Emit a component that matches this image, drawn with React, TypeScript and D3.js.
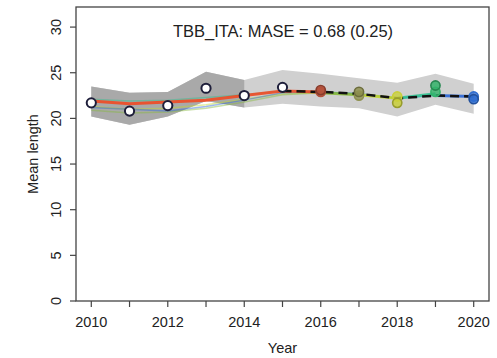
import React from "react";
import * as d3 from "d3";

// Observed mean length with uncertainty band
const years = [2010, 2011, 2012, 2013, 2014, 2015, 2016, 2017, 2018, 2019, 2020];
const observed = [21.7, 20.8, 21.4, 23.3, 22.5, 23.4, 23.1, 22.9, 21.7, 23.6, 22.1];
const bandUpper = [23.5, 22.8, 22.9, 25.1, 24.2, 25.3, 24.9, 24.4, 23.9, 24.9, 23.8];
const bandLower = [20.2, 19.3, 20.2, 21.9, 21.2, 21.6, 21.3, 21.1, 20.2, 21.5, 20.5];
const darkBandEnd = 2014;

// Reference run (dashed) over the hindcast window
const refYears = [2015, 2016, 2017, 2018, 2019, 2020];
const refValues = [23.0, 22.9, 22.7, 22.2, 22.5, 22.4];

// Retrospective peels: fitted values from 2010 up to their one-step-ahead year
const peelNames = ["2015", "2016", "2017", "2018", "2019"];
const peelColors = ["#ee4a24", "#86b83c", "#c2d62a", "#2fbf8f", "#2a66d6"];
const peelFits = [
  [21.9, 21.6, 21.8, 22.0, 22.5, 23.0, 22.9],
  [20.9, 20.6, 20.7, 21.1, 21.8, 22.6, 22.8, 22.6],
  [21.3, 21.0, 21.1, 21.5, 22.1, 22.7, 22.8, 22.6, 22.2],
  [22.1, 21.9, 22.0, 22.3, 22.6, 23.0, 22.9, 22.7, 22.2, 22.7],
  [21.2, 21.0, 20.8, 21.3, 22.0, 22.8, 22.9, 22.7, 22.2, 22.5, 22.4],
];
// One-step-ahead predictions for 2016..2020
const predYears = [2016, 2017, 2018, 2019, 2020];
const predValues = [22.9, 22.5, 22.4, 22.9, 22.4];
const obsFillColors = ["#b5503a", "#8f9150", "#c9cf3a", "#33b36a", "#2e6ccf"];

const xTicks = [2010, 2011, 2012, 2013, 2014, 2015, 2016, 2017, 2018, 2019, 2020];
const xLabels = [2010, 2012, 2014, 2016, 2018, 2020];
const yTicks = [0, 5, 10, 15, 20, 25, 30];

const title = "TBB_ITA: MASE = 0.68 (0.25)";

export default function App() {
  const W = 497;
  const H = 358;
  const left = 76, right = 489, top = 7, bottom = 301;
  const x = d3.scaleLinear().domain([2009.6, 2020.4]).range([left, right]);
  const y = d3.scaleLinear().domain([0, 32.2]).range([bottom, top]);

  const area = d3
    .area<number>()
    .x((_, i) => x(years[i]))
    .y0((_, i) => y(bandLower[i]))
    .y1((_, i) => y(bandUpper[i]));
  const nDark = years.filter((yr) => yr <= darkBandEnd).length;

  const line = d3
    .line<[number, number]>()
    .x((d) => x(d[0]))
    .y((d) => y(d[1]));

  const font = "'Liberation Sans', Arial, Helvetica, sans-serif";
  const axisColor = "#444";

  const peelPath = (k: number) =>
    line(peelFits[k].map((v, i) => [years[i], v] as [number, number])) || "";
  const lastSeg = (k: number) => {
    const n = peelFits[k].length;
    return (
      line([
        [years[n - 2], peelFits[k][n - 2]],
        [years[n - 1], peelFits[k][n - 1]],
      ]) || ""
    );
  };

  return (
    <svg
      width={W}
      height={H}
      style={{ position: "absolute", left: 0, top: 0, background: "#fff" }}
      fontFamily={font}
    >
      {/* uncertainty band */}
      <path d={area(bandUpper) || ""} fill="#d0d0d0" />
      <path d={area(bandUpper.slice(0, nDark)) || ""} fill="#a9a9a9" />

      {/* faint peel fits */}
      {peelFits.map((_, k) =>
        k === 0 ? null : (
          <path key={"pf" + k} d={peelPath(k)} fill="none" stroke={peelColors[k]} strokeWidth={1.5} opacity={0.45} />
        )
      )}
      {/* main peel line */}
      <path d={peelPath(0)} fill="none" stroke={peelColors[0]} strokeWidth={3} opacity={0.9} />
      {/* one-step-ahead segments */}
      {peelFits.map((_, k) =>
        k === 0 ? null : (
          <path key={"ls" + k} d={lastSeg(k)} fill="none" stroke={peelColors[k]} strokeWidth={3} opacity={0.85} />
        )
      )}

      {/* reference run */}
      <path
        d={line(refYears.map((yr, i) => [yr, refValues[i]] as [number, number])) || ""}
        fill="none"
        stroke="#111"
        strokeWidth={2.5}
        strokeDasharray="9,5"
      />

      {/* observed points in the fitting period */}
      {years.map((yr, i) =>
        yr > 2015 ? null : (
          <circle key={"o" + yr} cx={x(yr)} cy={y(observed[i])} r={4.6} fill="#fff" stroke="#1e1e3a" strokeWidth={2} />
        )
      )}
      {/* predictions and observations in the hindcast years */}
      {predYears.map((yr, i) => (
        <circle key={"p" + yr} cx={x(yr)} cy={y(predValues[i])} r={4.6} fill={obsFillColors[i]} fillOpacity={0.8} stroke={obsFillColors[i]} strokeWidth={1.6} />
      ))}
      {predYears.map((yr, i) => {
        const j = years.indexOf(yr);
        return (
          <circle key={"h" + yr} cx={x(yr)} cy={y(observed[j])} r={4.6} fill={obsFillColors[i]} fillOpacity={0.85} stroke={d3.color(obsFillColors[i])!.darker(0.8).toString()} strokeWidth={1.6} />
        );
      })}

      {/* frame */}
      <rect x={left} y={top} width={right - left} height={bottom - top} fill="none" stroke={axisColor} strokeWidth={1.3} />

      {/* x axis */}
      {xTicks.map((t) => (
        <line key={"xt" + t} x1={x(t)} x2={x(t)} y1={bottom} y2={bottom + 6} stroke={axisColor} strokeWidth={1.2} />
      ))}
      {xLabels.map((t) => (
        <text key={"xl" + t} x={x(t)} y={327} textAnchor="middle" fontSize={14.5} fill="#222">
          {t}
        </text>
      ))}
      <text x={(left + right) / 2} y={353} textAnchor="middle" fontSize={14.5} fill="#222">
        Year
      </text>

      {/* y axis */}
      {yTicks.map((t) => (
        <line key={"yt" + t} x1={left - 6} x2={left} y1={y(t)} y2={y(t)} stroke={axisColor} strokeWidth={1.2} />
      ))}
      {yTicks.map((t) => (
        <text key={"yl" + t} transform={`translate(61,${y(t)}) rotate(-90)`} textAnchor="middle" fontSize={14.5} fill="#222">
          {t}
        </text>
      ))}
      <text transform={`translate(38,${(top + bottom) / 2}) rotate(-90)`} textAnchor="middle" fontSize={14.5} fill="#222">
        Mean length
      </text>

      {/* title */}
      <text x={283} y={37} textAnchor="middle" fontSize={16.5} fill="#222">
        {title}
      </text>
    </svg>
  );
}
